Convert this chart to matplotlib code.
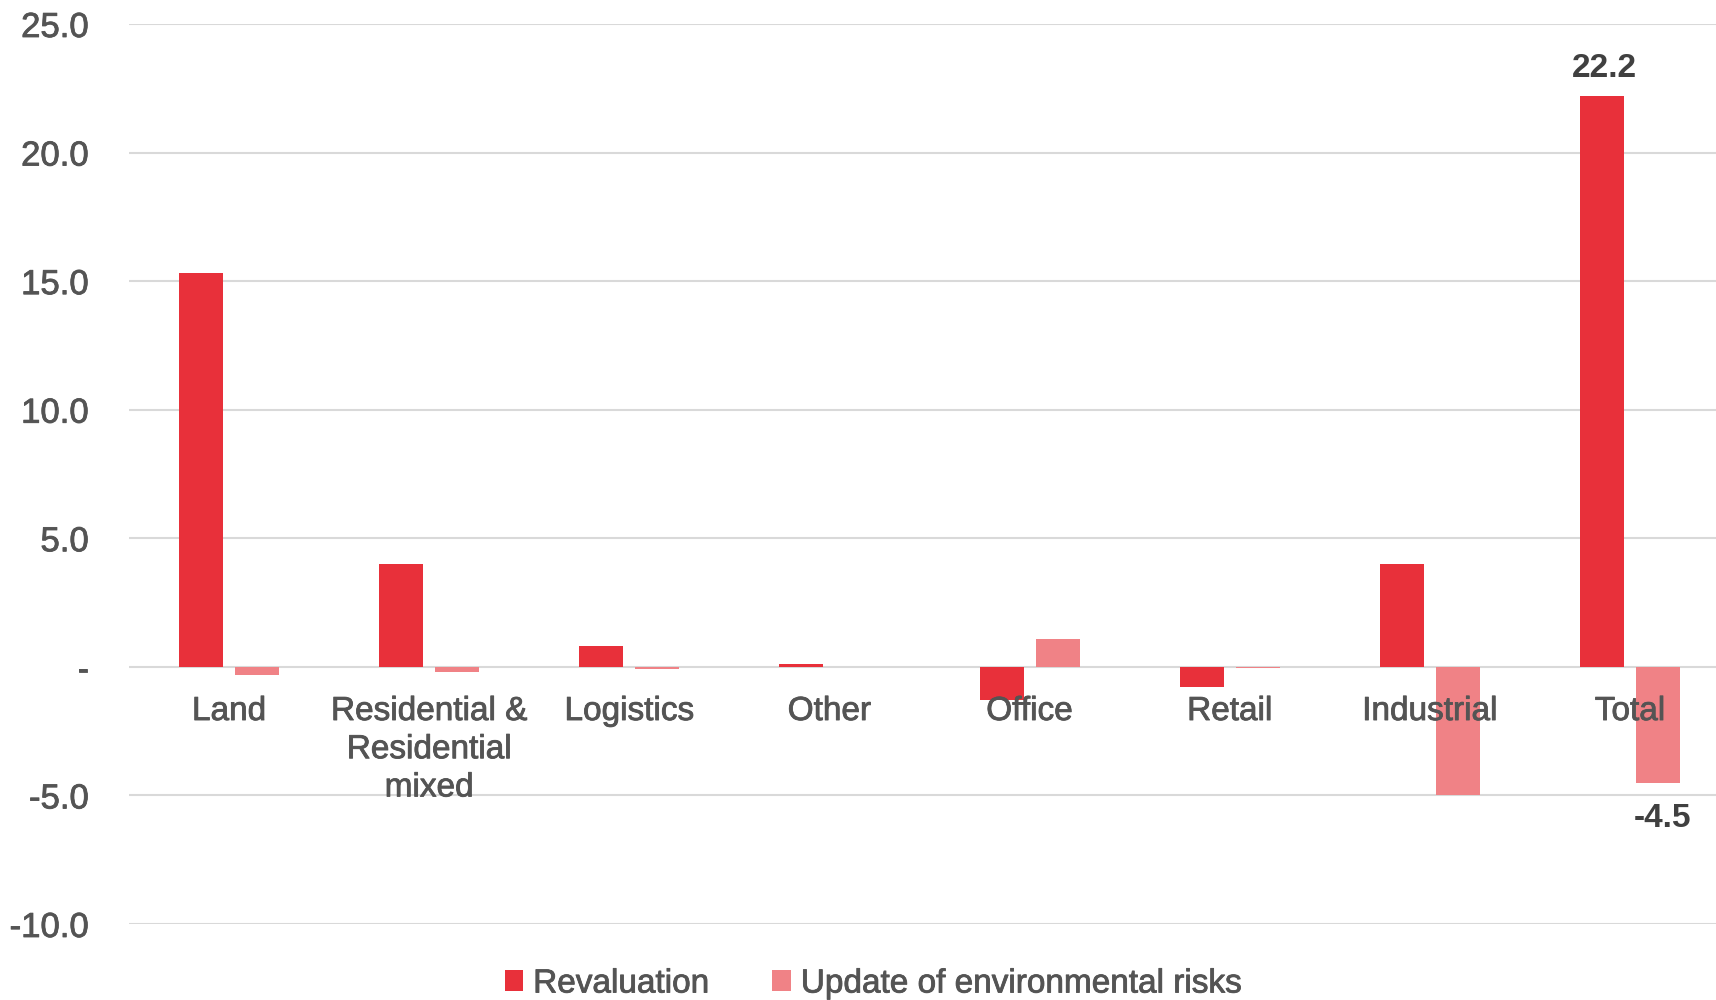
import matplotlib
matplotlib.use("Agg")
import matplotlib.pyplot as plt
import matplotlib.patheffects as pe

plt.rcParams['font.family'] = ['Liberation Sans', 'DejaVu Sans']

categories = ["Land", "Residential &\nResidential\nmixed", "Logistics", "Other",
              "Office", "Retail", "Industrial", "Total"]
revaluation = [15.3, 4.0, 0.8, 0.1, -1.3, -0.8, 4.0, 22.2]
env_risks = [-0.3, -0.2, -0.1, 0.0, 1.1, -0.05, -5.0, -4.5]
yticks = [-10, -5, 0, 5, 10, 15, 20, 25]

red = "#E8303A"
pink = "#F08286"
text_col = "#545454"
# slightly heavier strokes, the original font is a medium weight
heavy = [pe.withStroke(linewidth=0.6, foreground=text_col)]

fig = plt.figure(figsize=(17.16, 10), dpi=100)
ax = fig.add_axes([129 / 1716, 0.076, 1 - 129 / 1716, 0.9])

x = list(range(len(categories)))
w = 0.22
off = 0.14
b1 = ax.bar([i - off for i in x], revaluation, w, color=red, zorder=2, label="Revaluation")
b2 = ax.bar([i + off for i in x], env_risks, w, color=pink, zorder=2,
            label="Update of environmental risks")

ax.set_ylim(-10, 25)
ax.set_xlim(-0.5, 7.43)
ax.set_yticks(yticks)
ax.set_yticklabels(["-" if v == 0 else "{:.1f}".format(v) for v in yticks])
ax.set_xticks([])
ax.yaxis.grid(True, color="#d9d9d9", linewidth=1.5)
ax.set_axisbelow(True)
for s in ax.spines.values():
    s.set_visible(False)
ax.tick_params(axis='y', length=0, pad=29, labelsize=25, labelcolor=text_col)
for t in ax.get_yticklabels():
    t.set_path_effects(heavy)

# category labels sit just under the zero line
for i, c in enumerate(categories):
    ax.annotate(c, (i, 0), xytext=(0, -21), textcoords="offset points",
                ha="center", va="top", fontsize=24, color=text_col,
                linespacing=1.3, zorder=3, path_effects=heavy)

# value labels on the total
ax.annotate("{:.1f}".format(revaluation[-1]), (x[-1] - off, revaluation[-1]),
            xytext=(2, 9), textcoords="offset points", ha="center", va="bottom",
            fontsize=24, fontweight="bold", color="#404040")
ax.annotate("{:.1f}".format(env_risks[-1]), (x[-1] + off, env_risks[-1]),
            xytext=(3, -15), textcoords="offset points", ha="center", va="top",
            fontsize=24, fontweight="bold", color="#404040")

leg = fig.legend(handles=[b1, b2], loc="center", bbox_to_anchor=(0.509, 0.016),
                 ncol=2, frameon=False, fontsize=24, handlelength=0.55,
                 handleheight=0.6, handletextpad=0.3, columnspacing=1.9,
                 borderpad=0.1)
for t in leg.get_texts():
    t.set_color(text_col)
    t.set_path_effects(heavy)

fig.savefig("out.png", dpi=100)
